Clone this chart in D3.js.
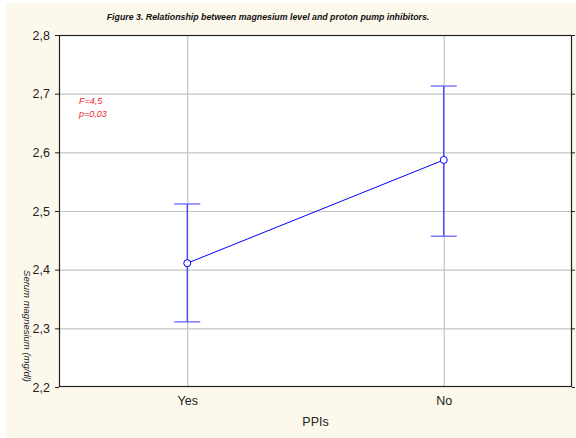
<!DOCTYPE html>
<html>
<head>
<meta charset="utf-8">
<script src="https://cdn.jsdelivr.net/npm/d3@7"></script>
<style>
  body { margin: 0; background: #fff; }
  svg { display: block; font-family: "Liberation Sans", Arial, sans-serif; }
</style>
</head>
<body>
<svg id="chart" width="576" height="438"></svg>
<script>
// data
const groups = ['Yes', 'No'];
const means = [2.411, 2.587];
const upper = [2.512, 2.713];
const lower = [2.311, 2.457];
const yTicks = [2.2, 2.3, 2.4, 2.5, 2.6, 2.7, 2.8];
const stats = ['F=4,5', 'p=0,03'];

const width = 576, height = 438;
const margin = { top: 35, right: 4, bottom: 51, left: 59 };
const svg = d3.select('#chart');

// cream panel
svg.append('rect')
  .attr('x', 6).attr('y', 3)
  .attr('width', width - 6).attr('height', height - 3)
  .attr('fill', '#fdf8ec');

const x = d3.scalePoint()
  .domain(groups)
  .range([margin.left, width - margin.right])
  .padding(0.5);
const y = d3.scaleLinear()
  .domain([2.2, 2.8])
  .range([height - margin.bottom, margin.top]);

const plot = svg.append('g');
plot.append('rect')
  .attr('x', margin.left).attr('y', margin.top)
  .attr('width', width - margin.left - margin.right)
  .attr('height', height - margin.top - margin.bottom)
  .attr('fill', '#fff');

// grid
plot.selectAll('.hgrid')
  .data(yTicks.slice(1, -1))
  .join('line')
  .attr('x1', margin.left).attr('x2', width - margin.right)
  .attr('y1', (d) => y(d) + 0.5).attr('y2', (d) => y(d) + 0.5)
  .attr('stroke', '#c4c4c4').attr('stroke-width', 1.2);
plot.selectAll('.vgrid')
  .data(groups)
  .join('line')
  .attr('x1', (d) => x(d) + 0.5).attr('x2', (d) => x(d) + 0.5)
  .attr('y1', margin.top).attr('y2', height - margin.bottom)
  .attr('stroke', '#c4c4c4').attr('stroke-width', 1.2);

// axes
const yAxis = svg.append('g')
  .attr('transform', `translate(${margin.left},0)`)
  .call(d3.axisLeft(y).tickValues(yTicks).tickSize(4).tickPadding(5)
    .tickFormat((d) => d3.format('.1f')(d).replace('.', ',')));
yAxis.select('.domain').remove();
yAxis.selectAll('text').attr('font-size', 12.5).attr('fill', '#222');
yAxis.selectAll('line').attr('stroke', '#222');

svg.append('g')
  .attr('transform', `translate(${width - margin.right},0)`)
  .call(d3.axisRight(y).tickValues(yTicks).tickSize(3).tickFormat(''))
  .call((g) => g.select('.domain').remove())
  .selectAll('line').attr('stroke', '#222');

const xAxis = svg.append('g')
  .attr('transform', `translate(0,${height - margin.bottom})`)
  .call(d3.axisBottom(x).tickSize(0).tickPadding(9));
xAxis.select('.domain').remove();
xAxis.selectAll('text').attr('font-size', 12.5).attr('fill', '#222');

// frame
svg.append('rect')
  .attr('x', margin.left + 0.5).attr('y', margin.top + 0.5)
  .attr('width', width - margin.left - margin.right - 1)
  .attr('height', height - margin.top - margin.bottom - 1)
  .attr('fill', 'none').attr('stroke', '#222').attr('stroke-width', 1.2);

// error bars
const bars = svg.append('g');
bars.selectAll('.whisker')
  .data(groups)
  .join('line')
  .attr('x1', (d) => x(d)).attr('x2', (d) => x(d))
  .attr('y1', (d, i) => y(upper[i])).attr('y2', (d, i) => y(lower[i]))
  .attr('stroke', '#3333ff').attr('stroke-width', 1.2);
bars.selectAll('.cap-top')
  .data(groups)
  .join('line')
  .attr('x1', (d) => x(d) - 13).attr('x2', (d) => x(d) + 13)
  .attr('y1', (d, i) => y(upper[i])).attr('y2', (d, i) => y(upper[i]))
  .attr('stroke', '#5c5cff').attr('stroke-width', 1.2);
bars.selectAll('.cap-bottom')
  .data(groups)
  .join('line')
  .attr('x1', (d) => x(d) - 13).attr('x2', (d) => x(d) + 13)
  .attr('y1', (d, i) => y(lower[i])).attr('y2', (d, i) => y(lower[i]))
  .attr('stroke', '#5c5cff').attr('stroke-width', 1.2);

// mean line + points
const line = d3.line().x((d) => x(d[0])).y((d) => y(d[1]));
svg.append('path')
  .datum(groups.map((g, i) => [g, means[i]]))
  .attr('d', line)
  .attr('fill', 'none').attr('stroke', '#0000ff').attr('stroke-width', 1);
svg.selectAll('.mean')
  .data(groups)
  .join('circle')
  .attr('cx', (d) => x(d)).attr('cy', (d, i) => y(means[i]))
  .attr('r', 3.5)
  .attr('fill', '#fff').attr('stroke', '#0000ff').attr('stroke-width', 1);

// texts
svg.append('text')
  .attr('x', 268).attr('y', 20)
  .attr('text-anchor', 'middle')
  .attr('font-size', 8.8).attr('font-weight', 'bold').attr('font-style', 'italic')
  .attr('fill', '#111')
  .text('Figure 3. Relationship between magnesium level and proton pump inhibitors.');

svg.selectAll('.stat')
  .data(stats)
  .join('text')
  .attr('x', 79).attr('y', (d, i) => 104 + i * 13)
  .attr('font-size', 9).attr('font-style', 'italic')
  .attr('fill', '#e8252b')
  .text((d) => d);

svg.append('text')
  .attr('transform', 'translate(24,326) rotate(90)')
  .attr('text-anchor', 'middle')
  .attr('font-size', 9.5).attr('font-style', 'italic')
  .attr('fill', '#222')
  .text('Serum magnesium (mg/dl)');

svg.append('text')
  .attr('x', (margin.left + width - margin.right) / 2).attr('y', 426)
  .attr('text-anchor', 'middle')
  .attr('font-size', 12.5).attr('fill', '#222')
  .text('PPIs');
</script>
</body>
</html>
